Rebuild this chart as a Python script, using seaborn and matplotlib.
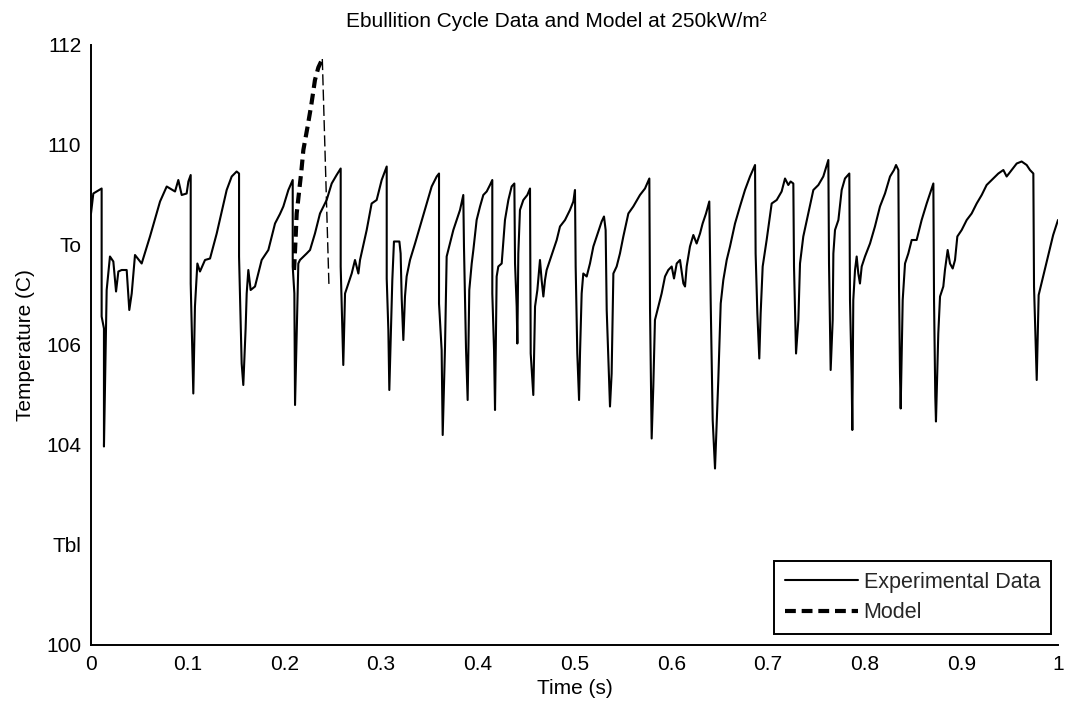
import matplotlib
matplotlib.use("Agg")
import matplotlib.pyplot as plt
import pandas as pd
import seaborn as sns

# ---------------- data ----------------
exp_time = [
    0.0000, 0.0024, 0.0110, 0.0110, 0.0134, 0.0134, 0.0162, 0.0196, 0.0231, 0.0259,
    0.0283, 0.0317, 0.0369, 0.0396, 0.0421, 0.0455, 0.0524, 0.0610, 0.0714, 0.0783,
    0.0869, 0.0903, 0.0938, 0.0989, 0.1007, 0.1031, 0.1031, 0.1058, 0.1075, 0.1100,
    0.1127, 0.1179, 0.1231, 0.1300, 0.1403, 0.1455, 0.1506, 0.1531, 0.1531, 0.1558,
    0.1575, 0.1599, 0.1610, 0.1627, 0.1651, 0.1696, 0.1765, 0.1834, 0.1903, 0.1954,
    0.1989, 0.2041, 0.2086, 0.2086, 0.2103, 0.2110, 0.2127, 0.2144, 0.2161, 0.2230,
    0.2265, 0.2316, 0.2368, 0.2437, 0.2489, 0.2540, 0.2582, 0.2582, 0.2609, 0.2627,
    0.2651, 0.2696, 0.2730, 0.2747, 0.2765, 0.2782, 0.2851, 0.2902, 0.2954, 0.3006,
    0.3058, 0.3058, 0.3075, 0.3085, 0.3116, 0.3133, 0.3189, 0.3202, 0.3213, 0.3230,
    0.3247, 0.3264, 0.3299, 0.3351, 0.3402, 0.3471, 0.3523, 0.3575, 0.3599, 0.3599,
    0.3626, 0.3637, 0.3661, 0.3678, 0.3712, 0.3747, 0.3816, 0.3850, 0.3857, 0.3878,
    0.3895, 0.3912, 0.3937, 0.3954, 0.3988, 0.4023, 0.4057, 0.4092, 0.4126, 0.4150,
    0.4150, 0.4168, 0.4178, 0.4195, 0.4212, 0.4247, 0.4281, 0.4316, 0.4350, 0.4378,
    0.4385, 0.4402, 0.4409, 0.4419, 0.4436, 0.4471, 0.4512, 0.4540, 0.4547, 0.4574,
    0.4592, 0.4616, 0.4643, 0.4660, 0.4678, 0.4695, 0.4712, 0.4747, 0.4781, 0.4816,
    0.4850, 0.4902, 0.4953, 0.4988, 0.5005, 0.5012, 0.5029, 0.5047, 0.5057, 0.5074,
    0.5091, 0.5126, 0.5160, 0.5195, 0.5229, 0.5281, 0.5305, 0.5322, 0.5333, 0.5367,
    0.5384, 0.5402, 0.5436, 0.5470, 0.5505, 0.5557, 0.5608, 0.5677, 0.5729, 0.5774,
    0.5781, 0.5798, 0.5815, 0.5832, 0.5867, 0.5901, 0.5936, 0.5970, 0.6005, 0.6029,
    0.6057, 0.6091, 0.6126, 0.6143, 0.6160, 0.6194, 0.6229, 0.6263, 0.6298, 0.6325,
    0.6360, 0.6394, 0.6408, 0.6429, 0.6453, 0.6470, 0.6487, 0.6512, 0.6539, 0.6574,
    0.6608, 0.6660, 0.6711, 0.6763, 0.6815, 0.6867, 0.6873, 0.6891, 0.6911, 0.6925,
    0.6946, 0.6987, 0.7039, 0.7091, 0.7142, 0.7177, 0.7211, 0.7235, 0.7263, 0.7270,
    0.7291, 0.7315, 0.7332, 0.7366, 0.7418, 0.7470, 0.7522, 0.7573, 0.7625, 0.7632,
    0.7649, 0.7670, 0.7677, 0.7694, 0.7729, 0.7763, 0.7797, 0.7842, 0.7849, 0.7866,
    0.7873, 0.7883, 0.7901, 0.7918, 0.7935, 0.7952, 0.7970, 0.8004, 0.8056, 0.8107,
    0.8159, 0.8211, 0.8263, 0.8304, 0.8325, 0.8349, 0.8356, 0.8366, 0.8373, 0.8394,
    0.8418, 0.8452, 0.8487, 0.8538, 0.8590, 0.8642, 0.8676, 0.8711, 0.8718, 0.8731,
    0.8738, 0.8762, 0.8780, 0.8814, 0.8831, 0.8859, 0.8883, 0.8911, 0.8935, 0.8959,
    0.9004, 0.9056, 0.9107, 0.9159, 0.9211, 0.9262, 0.9331, 0.9383, 0.9435, 0.9469,
    0.9521, 0.9573, 0.9624, 0.9676, 0.9710, 0.9745, 0.9752, 0.9765, 0.9780, 0.9800,
    0.9850, 0.9900, 0.9950, 1.0000,
]
exp_temp = [
    108.63, 109.03, 109.13, 106.57, 106.33, 103.97, 107.10, 107.77, 107.67, 107.07,
    107.47, 107.50, 107.50, 106.70, 107.03, 107.80, 107.63, 108.17, 108.87, 109.17,
    109.07, 109.30, 109.00, 109.03, 109.27, 109.40, 107.23, 105.03, 106.77, 107.63,
    107.47, 107.70, 107.73, 108.23, 109.10, 109.37, 109.47, 109.43, 107.77, 105.63,
    105.20, 106.33, 107.03, 107.50, 107.10, 107.17, 107.70, 107.90, 108.43, 108.62,
    108.77, 109.10, 109.30, 107.57, 107.03, 104.80, 106.23, 107.63, 107.70, 107.83,
    107.90, 108.23, 108.63, 108.90, 109.23, 109.40, 109.53, 107.57, 105.60, 107.03,
    107.17, 107.43, 107.70, 107.57, 107.43, 107.70, 108.30, 108.83, 108.90, 109.30,
    109.57, 107.33, 106.30, 105.10, 107.30, 108.07, 108.07, 107.83, 106.93, 106.10,
    106.97, 107.37, 107.70, 108.03, 108.37, 108.83, 109.17, 109.37, 109.43, 106.83,
    105.90, 104.20, 105.97, 107.77, 108.03, 108.30, 108.70, 109.00, 107.97, 105.93,
    104.90, 107.10, 107.63, 107.90, 108.50, 108.77, 109.00, 109.07, 109.20, 109.30,
    107.03, 105.90, 104.70, 107.37, 107.57, 107.63, 108.50, 108.90, 109.17, 109.23,
    107.63, 106.77, 106.03, 107.83, 108.70, 108.90, 109.00, 109.13, 105.83, 105.00,
    106.77, 107.10, 107.70, 107.30, 106.97, 107.30, 107.50, 107.70, 107.90, 108.10,
    108.37, 108.50, 108.70, 108.87, 109.10, 107.57, 105.83, 104.90, 105.83, 107.03,
    107.43, 107.37, 107.63, 107.97, 108.17, 108.47, 108.57, 108.30, 106.70, 104.77,
    105.43, 107.43, 107.57, 107.83, 108.17, 108.63, 108.77, 109.00, 109.13, 109.33,
    106.73, 104.13, 105.17, 106.50, 106.77, 107.03, 107.37, 107.50, 107.57, 107.33,
    107.63, 107.70, 107.23, 107.17, 107.57, 107.97, 108.20, 108.03, 108.23, 108.43,
    108.63, 108.87, 106.90, 104.50, 103.53, 104.43, 105.30, 106.83, 107.30, 107.70,
    107.97, 108.43, 108.77, 109.10, 109.37, 109.60, 107.83, 106.63, 105.73, 106.63,
    107.57, 108.10, 108.83, 108.90, 109.07, 109.33, 109.20, 109.27, 109.23, 107.57,
    105.83, 106.50, 107.63, 108.17, 108.63, 109.10, 109.20, 109.37, 109.70, 107.63,
    105.50, 106.50, 107.83, 108.30, 108.50, 109.10, 109.33, 109.43, 106.90, 105.37,
    104.30, 106.90, 107.50, 107.77, 107.43, 107.23, 107.57, 107.77, 108.03, 108.37,
    108.77, 109.03, 109.37, 109.50, 109.60, 109.50, 107.17, 105.43, 104.73, 106.90,
    107.63, 107.83, 108.10, 108.10, 108.50, 108.83, 109.03, 109.23, 106.90, 104.97,
    104.47, 106.23, 106.97, 107.17, 107.50, 107.90, 107.63, 107.53, 107.70, 108.17,
    108.30, 108.50, 108.63, 108.83, 109.00, 109.20, 109.33, 109.43, 109.50, 109.37,
    109.50, 109.63, 109.67, 109.60, 109.50, 109.43, 107.17, 106.30, 105.30, 107.00,
    107.40, 107.80, 108.20, 108.50,
]

model_rise_time = [0.2100, 0.2115, 0.2127, 0.2175, 0.2196, 0.2240, 0.2278, 0.2316, 0.2351, 0.2392]
model_rise_temp = [107.50, 108.10, 108.63, 109.47, 109.90, 110.37, 110.80, 111.30, 111.55, 111.72]
model_fall_time = [0.2392, 0.2461]
model_fall_temp = [111.72, 107.17]

x_ticks = [0, 0.1, 0.2, 0.3, 0.4, 0.5, 0.6, 0.7, 0.8, 0.9, 1.0]
x_tick_labels = ["0", "0.1", "0.2", "0.3", "0.4", "0.5", "0.6", "0.7", "0.8", "0.9", "1"]
y_ticks = [100, 102, 104, 106, 108, 110, 112]
y_tick_labels = ["100", "Tbl", "104", "106", "To", "110", "112"]

title_text = "Ebullition Cycle Data and Model at 250kW/m\u00b2"
x_label = "Time (s)"
y_label = "Temperature (C)"
legend_labels = ["Experimental Data", "Model"]

# ---------------- plotting ----------------
sns.set_style("white")
plt.rcParams["font.family"] = ["Liberation Sans", "DejaVu Sans"]

W, H = 1065, 710
fig = plt.figure(figsize=(W / 100, H / 100), dpi=100)
ax = fig.add_axes([91 / W, 1 - 645 / H, 967 / W, 600 / H])

exp_df = pd.DataFrame({"Time": exp_time, "Temp": exp_temp})
sns.lineplot(data=exp_df, x="Time", y="Temp", estimator=None, sort=False,
             color="black", linewidth=1.5, label=legend_labels[0], ax=ax)

rise_df = pd.DataFrame({"Time": model_rise_time, "Temp": model_rise_temp})
sns.lineplot(data=rise_df, x="Time", y="Temp", estimator=None, sort=False,
             color="black", linewidth=3.0, linestyle=(0, (2.6, 1.4)),
             label=legend_labels[1], ax=ax)

fall_df = pd.DataFrame({"Time": model_fall_time, "Temp": model_fall_temp})
sns.lineplot(data=fall_df, x="Time", y="Temp", estimator=None, sort=False,
             color="black", linewidth=1.0, linestyle=(0, (8, 3)), ax=ax)

ax.set_xlim(0, 1)
ax.set_ylim(100, 112)
ax.set_xticks(x_ticks)
ax.set_xticklabels(x_tick_labels)
ax.set_yticks(y_ticks)
ax.set_yticklabels(y_tick_labels)

for side in ["top", "right"]:
    ax.spines[side].set_visible(False)
for side in ["left", "bottom"]:
    ax.spines[side].set_color("black")
    ax.spines[side].set_linewidth(1.4)

ax.tick_params(axis="both", direction="in", length=8, width=1.3,
               labelsize=15, colors="black", pad=7)

ax.set_xlabel(x_label, fontsize=15, labelpad=4, color="black")
ax.set_ylabel(y_label, fontsize=15, labelpad=8, color="black")
ax.set_title(title_text, fontsize=15, x=0.481, pad=13, color="black")

handles, labels = ax.get_legend_handles_labels()
leg = ax.legend(handles[:2], labels[:2], loc="lower right",
                bbox_to_anchor=(1 - 7 / 967, 11 / 600), borderaxespad=0,
                fontsize=15.5, frameon=True, fancybox=False, edgecolor="black",
                handlelength=3.4, handletextpad=0.25, labelspacing=0.45,
                borderpad=0.5)
leg.get_frame().set_linewidth(1.4)
leg.get_frame().set_facecolor("white")
leg.get_frame().set_alpha(1.0)

fig.savefig("out.png", dpi=100, facecolor="white")
